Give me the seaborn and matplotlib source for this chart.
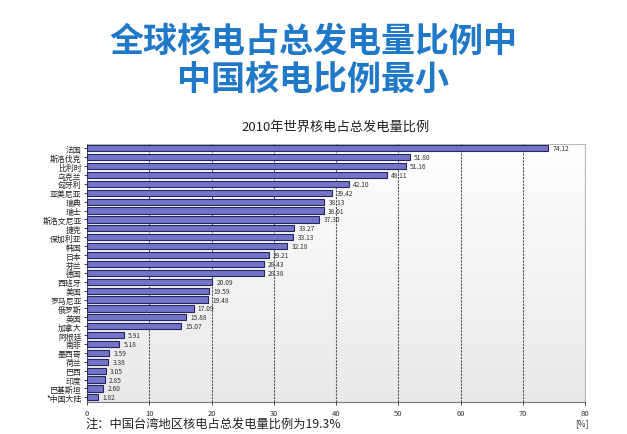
import numpy as np
import pandas as pd
import matplotlib
matplotlib.use("Agg")
import matplotlib.pyplot as plt
import seaborn as sns

# ==========================================
# Data
# ==========================================

countries = [
    "法国", "斯洛伐克", "比利时", "乌克兰", "匈牙利", "亚美尼亚", "瑞典", "瑞士",
    "斯洛文尼亚", "捷克", "保加利亚", "韩国", "日本", "芬兰", "德国", "西班牙",
    "美国", "罗马尼亚", "俄罗斯", "英国", "加拿大", "阿根廷", "南非", "墨西哥",
    "荷兰", "巴西", "印度", "巴基斯坦", "*中国大陆",
]
shares = [
    74.12, 51.80, 51.16, 48.11, 42.10, 39.42, 38.13, 38.01,
    37.30, 33.27, 33.13, 32.18, 29.21, 28.43, 28.38, 20.09,
    19.59, 19.48, 17.09, 15.88, 15.07, 5.91, 5.18, 3.59,
    3.38, 3.05, 2.85, 2.60, 1.82,
]
x_ticks = [0, 10, 20, 30, 40, 50, 60, 70, 80]

df = pd.DataFrame({"country": countries, "share": shares})

# ==========================================
# Style
# ==========================================

sns.set_style("white")
plt.rcParams["font.family"] = ["Noto Sans CJK SC", "DejaVu Sans"]

fig = plt.figure(figsize=(6.27, 4.35), dpi=100)
ax = fig.add_axes([0.139, 0.074, 0.794, 0.593])

# light gradient background of plot area
grad = np.linspace(0, 1, 256).reshape(-1, 1)
ax.imshow(grad, extent=[0, 1, 0, 1], transform=ax.transAxes,
          cmap=matplotlib.colors.LinearSegmentedColormap.from_list("bg", ["#ffffff", "#e9e9e9"]),
          aspect="auto", zorder=0)

sns.barplot(data=df, x="share", y="country", orient="h", ax=ax,
            color="#7474c8", edgecolor="#262660", linewidth=0.8,
            width=0.7, saturation=1, zorder=3)

for c in ax.containers:
    ax.bar_label(c, fmt="%.2f", padding=3, fontsize=4.8, color="#333333")

ax.set_xlim(0, 80)
ax.set_xticks(x_ticks)
ax.set_xticklabels([str(t) for t in x_ticks], fontsize=5.5, color="#333333")
ax.tick_params(axis="y", labelsize=5.7, length=2, width=0.6, pad=2, left=True)
ax.tick_params(axis="x", length=2, width=0.6, pad=3, bottom=True)
ax.set_xlabel("")
ax.set_ylabel("")

ax.xaxis.grid(True, linestyle=(0, (2, 1)), color="#555555", linewidth=0.8)
ax.set_axisbelow(False)
for gl in ax.get_xgridlines():
    gl.set_zorder(1)

for side in ["top", "right"]:
    ax.spines[side].set_color("#bbbbbb")
    ax.spines[side].set_linewidth(0.8)
for side in ["left", "bottom"]:
    ax.spines[side].set_color("#777777")
    ax.spines[side].set_linewidth(0.8)

# ==========================================
# Titles and notes
# ==========================================

fig.text(0.5, 0.905, "全球核电占总发电量比例中", ha="center", va="center",
         fontsize=24.5, fontweight="bold", color="#2079c8")
fig.text(0.5, 0.818, "中国核电比例最小", ha="center", va="center",
         fontsize=24.5, fontweight="bold", color="#2079c8")
fig.text(0.535, 0.708, "2010年世界核电占总发电量比例", ha="center", va="center",
         fontsize=9.5, color="#222222")
fig.text(0.136, 0.022, "注：中国台湾地区核电占总发电量比例为19.3%", ha="left", va="center",
         fontsize=8.8, color="#222222")
fig.text(0.918, 0.026, "[%]", ha="left", va="center", fontsize=6, color="#333333")

fig.savefig("out.png", dpi=100)
